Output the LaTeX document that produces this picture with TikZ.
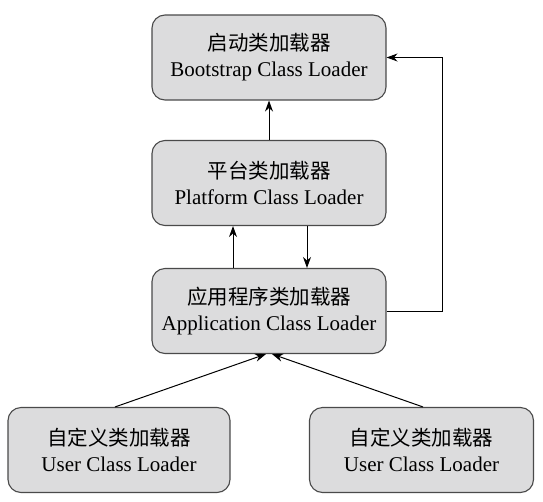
\documentclass[tikz,border=0pt]{standalone}
\usepackage{fontspec}
\setmainfont{Liberation Serif}
\newfontfamily\cjk{Noto Sans CJK SC}
\usetikzlibrary{arrows.meta,calc}
\definecolor{boxfill}{HTML}{DCDCDD}
\definecolor{boxline}{HTML}{4A4A4A}
\tikzset{
  loaderbox/.style={draw=boxline, fill=boxfill, line width=1.1pt, rounded corners=13pt,
    minimum height=85pt, inner sep=0pt, align=center, font=\fontsize{21}{26}\selectfont},
  arr/.style={draw=black, line width=1pt, -{Stealth[length=11pt,width=8pt]}},
}
\newcommand{\zh}[1]{{\cjk\fontsize{20.5}{26}\selectfont #1}}
\begin{document}
\begin{tikzpicture}[x=1pt,y=-1pt]
\useasboundingbox (0,0) rectangle (543,501);
\node[loaderbox, minimum width=234pt] (b1) at (269,57.5) {\zh{启动类加载器}\\Bootstrap Class Loader};
\node[loaderbox, minimum width=234pt] (b2) at (269,183) {\zh{平台类加载器}\\Platform Class Loader};
\node[loaderbox, minimum width=234pt] (b3) at (269,311) {\zh{应用程序类加载器}\\Application Class Loader};
\node[loaderbox, minimum width=222pt] (b4) at (119,450) {\zh{自定义类加载器}\\User Class Loader};
\node[loaderbox, minimum width=224pt] (b5) at (421.5,450) {\zh{自定义类加载器}\\User Class Loader};
\coordinate (loopx) at (442,0);
\coordinate (upx) at (233,0);
\coordinate (downx) at (307,0);
\coordinate (lfx) at (115,0);
\coordinate (rfx) at (423,0);
\draw[arr] (b2.north) -- (b1.south);
\draw[arr] (b3.north -| upx) -- (b2.south -| upx);
\draw[arr] (b2.south -| downx) -- (b3.north -| downx);
\draw[arr] (b3.east) -- (b3.east -| loopx) -- (b1.east -| loopx) -- (b1.east);
\draw[arr] (b4.north -| lfx) -- ($(b3.south)+(-3,0)$);
\draw[arr] (b5.north -| rfx) -- ($(b3.south)+(3,0)$);
\end{tikzpicture}
\end{document}
